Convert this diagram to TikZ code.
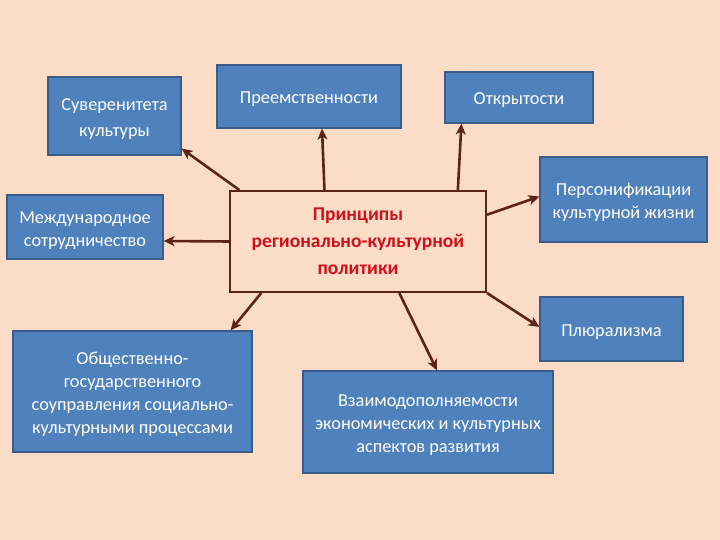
\documentclass[tikz,border=0pt]{standalone}
\usepackage{fontspec}
\setmainfont{Carlito}
\usetikzlibrary{arrows.meta,calc}
\definecolor{bgpeach}{HTML}{FBDDC7}
\definecolor{boxblue}{HTML}{4F81BD}
\definecolor{boxline}{HTML}{385D8A}
\definecolor{arrowbrown}{HTML}{5C2316}
\definecolor{titlered}{HTML}{D0101A}
\newcommand{\lift}{\rule{0pt}{17pt}}
\tikzset{
	principle/.style={draw=boxline, line width=1.2pt, fill=boxblue, text=white, align=center,
		inner sep=0pt, font=\fontsize{18.3}{23}\selectfont},
	link/.style={draw=arrowbrown, line width=2.6pt, -{Stealth[length=11pt,width=10pt,inset=3pt]}},
}

\begin{document}
\begin{tikzpicture}[x=1pt, y=-1pt]
	\fill[bgpeach] (0,0) rectangle (720,540);
	\useasboundingbox (0,0) rectangle (720,540);

	\node[draw=arrowbrown, line width=2pt, fill=bgpeach, text=titlered, align=center,
		minimum width=256pt, minimum height=101pt, font=\bfseries\fontsize{19.5}{27}\selectfont]
		(center) at (358,241.5) {Принципы\\регионально-культурной\\политики};

	\node[principle, minimum width=133pt, minimum height=78pt,
		font=\fontsize{18.3}{26}\selectfont] (sov) at (114.5,116) {\lift Суверенитета\\культуры};
	\node[principle, minimum width=184pt, minimum height=63pt] (pre) at (309,96.5) {\lift Преемственности};
	\node[principle, minimum width=148pt, minimum height=51pt] (otk) at (519,97.5) {\lift Открытости};
	\node[principle, minimum width=167pt, minimum height=85pt] (pers) at (623.5,199.5) {\lift Персонификации\\культурной жизни};
	\node[principle, minimum width=156pt, minimum height=64pt] (mezh) at (85,227) {\rule{0pt}{19pt}Международное\\сотрудничество};
	\node[principle, minimum width=239pt, minimum height=121pt] (obsh) at (132.5,391.5)
		{\lift Общественно-\\государственного\\соуправления социально-\\культурными процессами};
	\node[principle, minimum width=250pt, minimum height=102pt] (vzaim) at (428,422)
		{\lift Взаимодополняемости\\экономических и  культурных\\аспектов развития};
	\node[principle, minimum width=143pt, minimum height=64pt] (plur) at (611.5,329) {\lift Плюрализма};

	\draw[link] ($(center.north west)!0.04!(center.north east)$) -- ([yshift=7pt]sov.south east);
	\draw[link] ($(center.north west)!0.37!(center.north east)$) -- ([xshift=13pt]pre.south);
	\draw[link] ($(center.north west)!0.887!(center.north east)$) -- ([xshift=17pt]otk.south west);
	\draw[link] ($(center.north east)!0.24!(center.south east)$) -- ([yshift=3pt]pers.west);
	\draw[link] (center.west) -- ([yshift=-14pt]mezh.east);
	\draw[link] ($(center.south west)!0.125!(center.south east)$) -- ([xshift=-22pt]obsh.north east);
	\draw[link] ($(center.south west)!0.66!(center.south east)$) -- ([xshift=9pt]vzaim.north);
	\draw[link] (center.south east) -- ([yshift=2pt]plur.west);
\end{tikzpicture}
\end{document}
